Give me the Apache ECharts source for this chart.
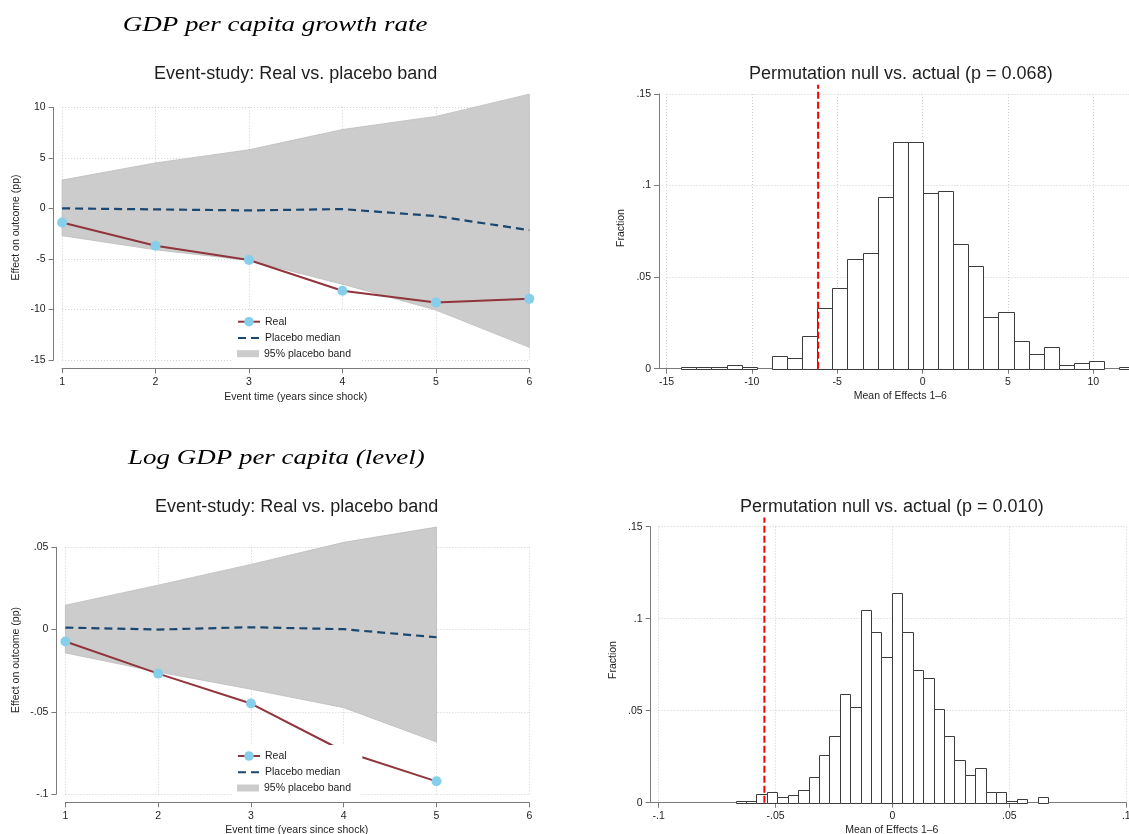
<!DOCTYPE html>
<html><head><meta charset="utf-8">
<script src="https://cdn.jsdelivr.net/npm/echarts@6/dist/echarts.min.js"></script>
<style>html,body{margin:0;padding:0;background:#fff}#c{width:1129px;height:834px}</style>
</head><body><div id="c"></div><script>
// ---------- Panel A: GDP per capita growth rate (event study) ----------
const eventTimeA = [1, 2, 3, 4, 5, 6];
const realA      = [-1.4, -3.7, -5.1, -8.15, -9.3, -8.95];
const medianA    = [0.0, -0.1, -0.2, -0.07, -0.76, -2.15];
const bandUpperA = [2.8, 4.5, 5.8, 7.8, 9.1, 11.3];
const bandLowerA = [-2.7, -4.1, -5.15, -7.5, -10.06, -13.75];
const xTicksA = [1, 2, 3, 4, 5, 6];
const yTicksA = [-15, -10, -5, 0, 5, 10];

// ---------- Panel B: permutation histogram (growth) ----------
const histStartB = -14.14;
const histWidthB = 0.885;
const histFracB = [0.001, 0.001, 0.001, 0.002, 0.001, 0, 0.007, 0.006, 0.018, 0.033,
                   0.044, 0.060, 0.063, 0.094, 0.124, 0.124, 0.096, 0.097, 0.068, 0.056,
                   0.028, 0.031, 0.015, 0.008, 0.012, 0.002, 0.003, 0.004, 0, 0.001];
const actualB = -6.12;
const xTicksB = [-15, -10, -5, 0, 5, 10, 15];
const yTicksB = [0, 0.05, 0.1, 0.15];

// ---------- Panel C: Log GDP per capita (event study) ----------
const eventTimeC = [1, 2, 3, 4, 5];
const realC      = [-0.0073, -0.0268, -0.045, -0.074, -0.0923];
const medianC    = [0.0012, 0.0, 0.0014, 0.0002, -0.0047];
const bandUpperC = [0.0148, 0.027, 0.0396, 0.053, 0.0623];
const bandLowerC = [-0.0142, -0.0258, -0.0363, -0.0475, -0.0684];
const xTicksC = [1, 2, 3, 4, 5, 6];
const yTicksC = [-0.1, -0.05, 0, 0.05];

// ---------- Panel D: permutation histogram (level) ----------
const histStartD = -0.0671;
const histWidthD = 0.004455;
const histFracD = [0.001, 0.001, 0.005, 0.006, 0.003, 0.004, 0.007, 0.014, 0.026, 0.036,
                   0.059, 0.052, 0.105, 0.093, 0.079, 0.114, 0.093, 0.072, 0.068, 0.051,
                   0.036, 0.023, 0.015, 0.019, 0.006, 0.006, 0.001, 0.002, 0, 0.003];
const actualD = -0.0548;
const xTicksD = [-0.1, -0.05, 0, 0.05, 0.1];
const yTicksD = [0, 0.05, 0.1, 0.15];

const lineTopFrac = 0.155; // red reference line reaches slightly above top tick

// ---------- styling ----------
const FONT = 'Liberation Sans';
const AXIS_COLOR = '#7a7a7a';
const TEXT_COLOR = '#1e1e1e';
const GRID_LINE = {show: true, lineStyle: {color: '#cfcfcf', type: [1, 2], width: 1}};
const REAL_COLOR = '#90353B';
const MARKER_COLOR = '#87CEEB';
const MEDIAN_COLOR = '#1A476F';
const BAND_COLOR = '#cccccc';

function fmt(v) {
  const s = String(Math.round(v * 100000) / 100000);
  return s.replace(/^(-?)0\./, '$1.');
}
function axis(ticks, gridIndex, offset, extra) {
  return Object.assign({
    type: 'value', gridIndex: gridIndex,
    min: ticks[0], max: ticks[ticks.length - 1],
    interval: +(ticks[1] - ticks[0]).toFixed(8),
    offset: offset,
    axisLine: {show: true, onZero: false, lineStyle: {color: AXIS_COLOR, width: 1}},
    axisTick: {show: true, length: 5, lineStyle: {color: AXIS_COLOR, width: 1}},
    axisLabel: {color: TEXT_COLOR, fontSize: 10.5, fontFamily: FONT, margin: 8, formatter: fmt},
    splitLine: GRID_LINE
  }, extra || {});
}

function bandSeries(xs, up, lo, idx) {
  return {
    type: 'custom', name: '95% placebo band', xAxisIndex: idx, yAxisIndex: idx,
    clip: false, z: 1,
    itemStyle: {color: BAND_COLOR},
    data: [[xs[0], up[0]]],
    renderItem: function (params, api) {
      const pts = [];
      for (let i = 0; i < xs.length; i++) pts.push(api.coord([xs[i], up[i]]));
      for (let i = xs.length - 1; i >= 0; i--) pts.push(api.coord([xs[i], lo[i]]));
      return {type: 'polygon', shape: {points: pts},
              style: {fill: BAND_COLOR, stroke: '#bdbdbd', lineWidth: 0.8}};
    }
  };
}
function realSeries(xs, ys, idx) {
  return {
    type: 'line', name: 'Real', xAxisIndex: idx, yAxisIndex: idx, clip: false, z: 3,
    data: xs.map((x, i) => [x, ys[i]]),
    symbol: 'circle', symbolSize: 10,
    itemStyle: {color: MARKER_COLOR},
    lineStyle: {color: REAL_COLOR, width: 2},
    animation: false
  };
}
function medianSeries(xs, ys, idx) {
  return {
    type: 'line', name: 'Placebo median', xAxisIndex: idx, yAxisIndex: idx, clip: false, z: 2,
    data: xs.map((x, i) => [x, ys[i]]),
    symbol: 'none',
    itemStyle: {color: 'rgba(0,0,0,0)', borderWidth: 0},
    lineStyle: {color: MEDIAN_COLOR, width: 2.2, type: [8, 5]},
    animation: false
  };
}
function histSeries(start, width, fracs, idx) {
  return {
    type: 'custom', name: 'hist' + idx, xAxisIndex: idx, yAxisIndex: idx, clip: false,
    data: fracs.map((f, i) => [start + i * width, start + (i + 1) * width, f]),
    encode: {x: [0, 1], y: 2},
    renderItem: function (params, api) {
      const h = api.value(2);
      if (!(h > 0)) return null;
      const p0 = api.coord([api.value(0), h]);
      const p1 = api.coord([api.value(1), 0]);
      return {type: 'rect',
              shape: {x: Math.round(p0[0]) + 0.5, y: Math.round(p0[1]) + 0.5,
                      width: Math.round(p1[0]) - Math.round(p0[0]),
                      height: Math.round(p1[1]) - Math.round(p0[1])},
              style: {fill: '#ffffff', stroke: '#3c3c3c', lineWidth: 1}};
    }
  };
}
function actualLine(x, idx) {
  return {
    type: 'line', name: 'actual' + idx, xAxisIndex: idx, yAxisIndex: idx, clip: false, z: 5,
    data: [[x, 0], [x, lineTopFrac]], symbol: 'none',
    lineStyle: {color: '#ff0000', width: 2, type: [7, 3]}, animation: false
  };
}
function legendPair(top) {
  return [
    {show: true, orient: 'vertical', left: 233, top: top, selectedMode: false,
     data: ['Real', 'Placebo median'], itemWidth: 22, itemHeight: 12, itemGap: 4.3,
     padding: [5, 22, 2, 4], backgroundColor: '#ffffff',
     textStyle: {fontSize: 10.5, fontFamily: FONT, color: TEXT_COLOR, lineHeight: 12}},
    {show: true, orient: 'vertical', left: 233, top: top + 35.3, selectedMode: false,
     data: [{name: '95% placebo band', icon: 'rect'}], itemWidth: 22, itemHeight: 7,
     padding: [1.7, 9, 6, 4], backgroundColor: '#ffffff',
     textStyle: {fontSize: 10.5, fontFamily: FONT, color: TEXT_COLOR, lineHeight: 12}}
  ];
}
function txt(text, x, y, size, opts) {
  return Object.assign({type: 'text', x: x, y: y, silent: true,
    style: {text: text, fontSize: size, fontFamily: FONT, fill: TEXT_COLOR,
            align: 'center', verticalAlign: 'middle'}}, opts || {});
}
function heading(text, x, y) {
  return {type: 'text', x: x, y: y, scaleX: 1.226, silent: true,
    style: {text: text, fontSize: 22, fontFamily: 'Liberation Serif', fontStyle: 'italic',
            fill: '#000', align: 'left', verticalAlign: 'middle'}};
}
function axisStub(x1, x2, y) {
  return {type: 'line', silent: true, shape: {x1: x1, y1: y, x2: x2, y2: y},
          style: {stroke: AXIS_COLOR, lineWidth: 1}};
}

const chart = echarts.init(document.getElementById('c'), null, {renderer: 'canvas'});
chart.setOption({
  backgroundColor: '#ffffff',
  animation: false,
  grid: [
    {left: 62.1, top: 107.3, width: 467.2, height: 252.7, outerBoundsMode: 'none'},
    {left: 666.5, top: 94, width: 512.2, height: 274.7, outerBoundsMode: 'none'},
    {left: 65.4, top: 547.3, width: 463.9, height: 246.7, outerBoundsMode: 'none'},
    {left: 658.7, top: 526.7, width: 467.6, height: 276, outerBoundsMode: 'none'}
  ],
  xAxis: [
    axis(xTicksA, 0, 8.3),
    axis(xTicksB, 1, 0),
    axis(xTicksC, 2, 8.3),
    axis(xTicksD, 3, 0)
  ],
  yAxis: [
    axis(yTicksA, 0, 8.5),
    axis(yTicksB, 1, 7.5),
    axis(yTicksC, 2, 9),
    axis(yTicksD, 3, 8.1)
  ],
  legend: [].concat(legendPair(310.7), legendPair(745)),
  series: [
    bandSeries(eventTimeA, bandUpperA, bandLowerA, 0),
    medianSeries(eventTimeA, medianA, 0),
    realSeries(eventTimeA, realA, 0),
    histSeries(histStartB, histWidthB, histFracB, 1),
    actualLine(actualB, 1),
    bandSeries(eventTimeC, bandUpperC, bandLowerC, 2),
    medianSeries(eventTimeC, medianC, 2),
    realSeries(eventTimeC, realC, 2),
    histSeries(histStartD, histWidthD, histFracD, 3),
    actualLine(actualD, 3)
  ],
  graphic: [
    heading('GDP per capita growth rate', 122.7, 25.4),
    heading('Log GDP per capita (level)', 128, 458.4),
    txt('Event-study: Real vs. placebo band', 295.7, 74.5, 18),
    txt('Permutation null vs. actual (p = 0.068)', 900.8, 74.5, 18),
    txt('Event-study: Real vs. placebo band', 296.7, 507.3, 18),
    txt('Permutation null vs. actual (p = 0.010)', 891.8, 507.3, 18),
    txt('Effect on outcome (pp)', 16, 227.5, 10.5, {rotation: Math.PI / 2}),
    txt('Event time (years since shock)', 295.7, 397.3, 10.5),
    txt('Fraction', 621, 228, 10.5, {rotation: Math.PI / 2}),
    txt('Mean of Effects 1\u20136', 900.3, 396.5, 10.5),
    txt('Effect on outcome (pp)', 16, 660, 10.5, {rotation: Math.PI / 2}),
    txt('Event time (years since shock)', 296.7, 830, 10.5),
    txt('Fraction', 613.5, 660, 10.5, {rotation: Math.PI / 2}),
    txt('Mean of Effects 1\u20136', 891.8, 830, 10.5),
    axisStub(659, 666.5, 368.5),
    axisStub(650.6, 658.7, 802.5)
  ]
});
</script></body></html>
